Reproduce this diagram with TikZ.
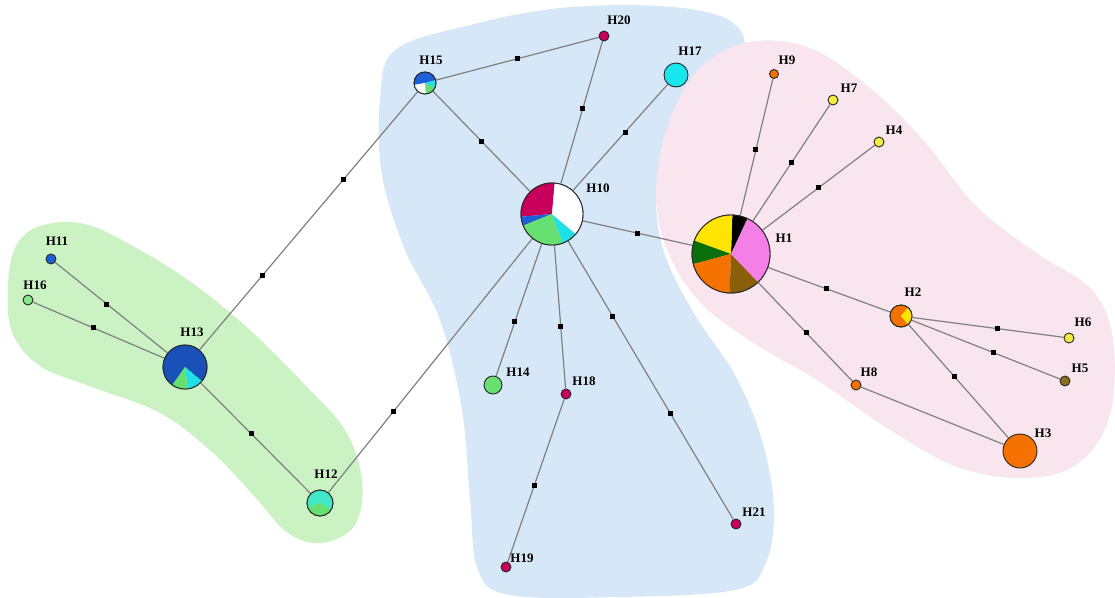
\documentclass[tikz,border=0pt]{standalone}
\usepackage{fontspec}
\setmainfont{Liberation Serif}
\definecolor{bgGreen}{RGB}{202,242,194}
\definecolor{bgBlue}{RGB}{214,232,248}
\definecolor{bgPink}{RGB}{249,229,237}
\definecolor{cPink}{HTML}{F47FE6}
\definecolor{cYellow}{HTML}{FFE400}
\definecolor{cDGreen}{HTML}{0A6E0A}
\definecolor{cOrange}{HTML}{F57200}
\definecolor{cBrown}{HTML}{8B5E0A}
\definecolor{cCrimson}{HTML}{C8005C}
\definecolor{cBlue}{HTML}{1E5FD8}
\definecolor{cLGreen}{HTML}{66E070}
\definecolor{cCyan}{HTML}{20E0E8}
\definecolor{cTeal}{HTML}{40E8C8}
\definecolor{cOlive}{HTML}{8B7020}
\definecolor{cLYellow}{HTML}{F4EC40}
\newcommand\pieslice[5]{\fill[#5] (#1.center) -- ++(#3:#2) arc[start angle=#3, end angle=#4, radius=#2] -- cycle;}
\begin{document}
\begin{tikzpicture}[x=1pt,y=1pt,
  hap/.style={circle,draw=black!85,line width=0.9pt,inner sep=0pt},
  lnk/.style={draw=black!50,line width=1.2pt},
  mut/.style={rectangle,fill=black,inner sep=0pt,minimum size=5pt},
  lab/.style={font=\fontsize{13}{13}\selectfont\bfseries,inner sep=0pt}]
\useasboundingbox (0,0) rectangle (1115,-597);
% background regions
\fill[bgBlue] plot[smooth cycle, tension=0.6] coordinates {
 (395,-50) (470,-25) (560,-8) (660,-6) (725,-18) (745,-45) (725,-80) (690,-115) (665,-155) (656,-200)
 (665,-255) (695,-315) (735,-375) (762,-440) (774,-510) (765,-565) (735,-590) (620,-597) (510,-595)
 (478,-570) (470,-500) (462,-410) (440,-320) (405,-250) (382,-175) (380,-100)};
\fill[bgPink] plot[smooth cycle, tension=0.6] coordinates {
 (656,-195) (668,-125) (700,-68) (750,-42) (810,-48) (870,-88) (925,-142) (975,-205) (1035,-252)
 (1092,-290) (1113,-340) (1110,-415) (1080,-462) (1030,-478) (960,-468) (890,-430) (820,-382)
 (752,-342) (700,-302) (668,-252)};
\fill[bgGreen] plot[smooth cycle, tension=0.6] coordinates {
 (40,-226) (85,-224) (140,-250) (195,-285) (250,-330) (305,-385) (345,-430) (362,-480) (355,-525)
 (322,-543) (288,-533) (255,-497) (212,-452) (160,-413) (95,-388) (40,-366) (12,-332) (8,-285) (16,-246)};
% haplotype nodes
\node[hap,minimum size=78pt] (H1) at (731,-254) {};
\node[hap,minimum size=62pt] (H10) at (552,-214) {};
\node[hap,minimum size=44pt] (H13) at (185,-367) {};
\node[hap,minimum size=22pt] (H15) at (425,-83) {};
\node[hap,minimum size=22pt] (H2) at (901,-316) {};
\node[hap,minimum size=26pt] (H12) at (320,-503) {};
\node[hap,minimum size=34pt,fill=cOrange] (H3) at (1020,-451) {};
\node[hap,minimum size=24pt,fill=cCyan!80!cyan] (H17) at (676,-75) {};
\node[hap,minimum size=18pt,fill=cLGreen] (H14) at (493,-385) {};
\node[hap,minimum size=10pt,fill=cCrimson] (H20) at (604,-36) {};
\node[hap,minimum size=10pt,fill=cCrimson] (H18) at (566,-394) {};
\node[hap,minimum size=10pt,fill=cCrimson] (H19) at (506,-567) {};
\node[hap,minimum size=10pt,fill=cCrimson] (H21) at (736,-524) {};
\node[hap,minimum size=9pt,fill=cOrange] (H9) at (774,-74) {};
\node[hap,minimum size=10pt,fill=cLYellow] (H7) at (833,-100) {};
\node[hap,minimum size=10pt,fill=cLYellow] (H4) at (879,-142) {};
\node[hap,minimum size=10pt,fill=cLYellow] (H6) at (1069,-338) {};
\node[hap,minimum size=10pt,fill=cOlive] (H5) at (1065,-381) {};
\node[hap,minimum size=10pt,fill=cOrange] (H8) at (856,-385) {};
\node[hap,minimum size=10pt,fill=cBlue] (H11) at (51,-259) {};
\node[hap,minimum size=10pt,fill=cLGreen!80!white] (H16) at (28,-300) {};
% connectors with mutation marks
\draw[lnk] (H15) -- node[mut,pos=0.5]{} (H20);
\draw[lnk] (H15) -- node[mut,pos=0.5]{} (H10);
\draw[lnk] (H20) -- node[mut,pos=0.47]{} (H10);
\draw[lnk] (H17) -- node[mut,pos=0.45]{} (H10);
\draw[lnk] (H10) -- node[mut,pos=0.5]{} (H1);
\draw[lnk] (H1) -- node[mut,pos=0.48]{} (H9);
\draw[lnk] (H1) -- node[mut,pos=0.5]{} (H7);
\draw[lnk] (H1) -- node[mut,pos=0.5]{} (H4);
\draw[lnk] (H1) -- node[mut,pos=0.48]{} (H2);
\draw[lnk] (H1) -- node[mut,pos=0.51]{} (H8);
\draw[lnk] (H8) -- (H3);
\draw[lnk] (H2) -- node[mut,pos=0.56]{} (H6);
\draw[lnk] (H2) -- node[mut,pos=0.55]{} (H5);
\draw[lnk] (H2) -- node[mut,pos=0.46]{} (H3);
\draw[lnk] (H10) -- node[mut,pos=0.59]{} (H14);
\draw[lnk] (H10) -- node[mut,pos=0.57]{} (H18);
\draw[lnk] (H18) -- node[mut,pos=0.53]{} (H19);
\draw[lnk] (H10) -- node[mut,pos=0.27]{} node[mut,pos=0.62]{} (H21);
\draw[lnk] (H10) -- node[mut,pos=0.68]{} (H12);
\draw[lnk] (H15) -- node[mut,pos=0.34]{} node[mut,pos=0.71]{} (H13);
\draw[lnk] (H13) -- node[mut,pos=0.54]{} (H11);
\draw[lnk] (H13) -- node[mut,pos=0.54]{} (H16);
\draw[lnk] (H13) -- node[mut,pos=0.46]{} (H12);
% pie charts
\pieslice{H1}{39pt}{65}{88}{black}
\pieslice{H1}{39pt}{88}{160}{cYellow}
\pieslice{H1}{39pt}{160}{195}{cDGreen}
\pieslice{H1}{39pt}{195}{268}{cOrange}
\pieslice{H1}{39pt}{268}{314}{cBrown}
\pieslice{H1}{39pt}{314}{425}{cPink}
\draw[black!85,line width=0.9pt] (H1.center) circle[radius=39pt];
\pieslice{H10}{31pt}{85}{185}{cCrimson}
\pieslice{H10}{31pt}{185}{202}{cBlue}
\pieslice{H10}{31pt}{202}{290}{cLGreen}
\pieslice{H10}{31pt}{290}{320}{cCyan}
\pieslice{H10}{31pt}{320}{445}{white}
\draw[black!85,line width=0.9pt] (H10.center) circle[radius=31pt];
\pieslice{H13}{22pt}{-40}{235}{cBlue!85!black}
\pieslice{H13}{22pt}{235}{278}{cLGreen}
\pieslice{H13}{22pt}{278}{320}{cCyan}
\draw[black!85,line width=0.9pt] (H13.center) circle[radius=22pt];
\pieslice{H15}{11pt}{15}{190}{cBlue}
\pieslice{H15}{11pt}{190}{275}{white}
\pieslice{H15}{11pt}{275}{335}{cLGreen}
\pieslice{H15}{11pt}{335}{375}{cCyan}
\draw[black!85,line width=0.9pt] (H15.center) circle[radius=11pt];
\pieslice{H2}{11pt}{50}{310}{cOrange}
\pieslice{H2}{11pt}{-50}{50}{cYellow}
\draw[black!85,line width=0.9pt] (H2.center) circle[radius=11pt];
\pieslice{H12}{13pt}{-30}{200}{cTeal}
\pieslice{H12}{13pt}{200}{330}{cLGreen}
\draw[black!85,line width=0.9pt] (H12.center) circle[radius=13pt];
% labels
\node[lab] (L20) at (619,-20) {H20};
\node[lab] (L15) at (431,-60) {H15};
\node[lab] (L17) at (690,-51) {H17};
\node[lab] (L9) at (787,-60) {H9};
\node[lab] (L7) at (849,-88) {H7};
\node[lab] (L4) at (894,-130) {H4};
\node[lab] (L10) at (598,-188) {H10};
\node[lab] (L1) at (784,-238) {H1};
\node[lab] (L11) at (57,-241) {H11};
\node[lab] (L16) at (35,-285) {H16};
\node[lab] (L13) at (192,-332) {H13};
\node[lab] (L2) at (913,-292) {H2};
\node[lab] (L6) at (1083,-322) {H6};
\node[lab] (L5) at (1080,-368) {H5};
\node[lab] (L8) at (869,-372) {H8};
\node[lab] (L3) at (1043,-433) {H3};
\node[lab] (L14) at (518,-372) {H14};
\node[lab] (L18) at (584,-381) {H18};
\node[lab] (L12) at (326,-474) {H12};
\node[lab] (L21) at (754,-512) {H21};
\node[lab] (L19) at (522,-558) {H19};
\end{tikzpicture}
\end{document}
